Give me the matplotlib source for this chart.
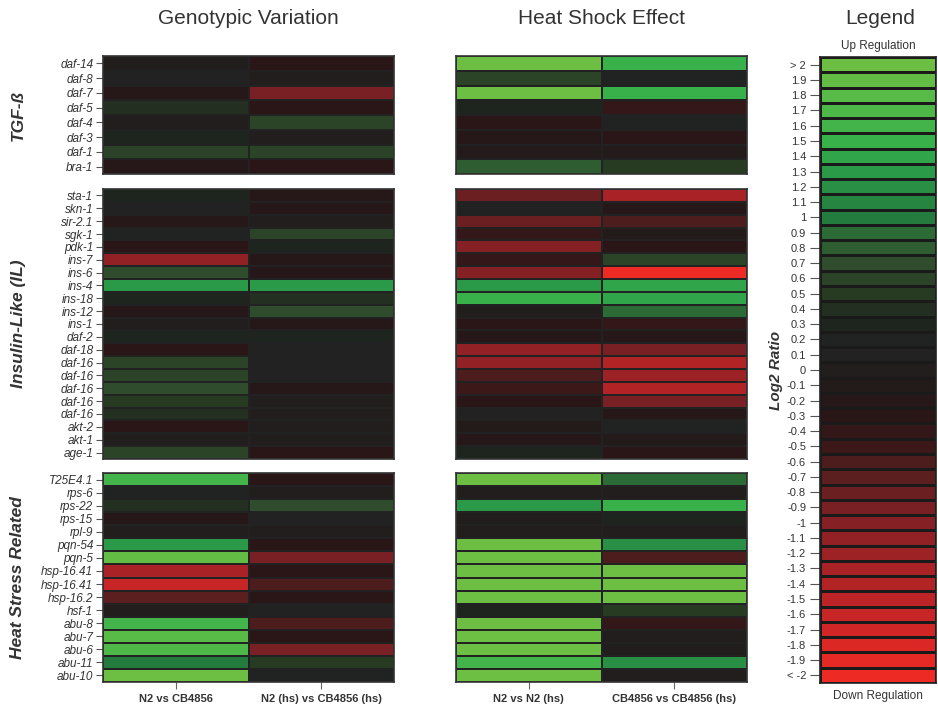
import numpy as np
import matplotlib
matplotlib.use('Agg')
import matplotlib.pyplot as plt
from matplotlib.colors import LinearSegmentedColormap, Normalize

plt.rcParams['font.family'] = ['Liberation Sans', 'DejaVu Sans']

# ─── data (log2 ratios) ───────────────────────────────────────────────────────
tgf_genes = ['daf-14', 'daf-8', 'daf-7', 'daf-5', 'daf-4', 'daf-3', 'daf-1', 'bra-1']
il_genes = ['sta-1', 'skn-1', 'sir-2.1', 'sgk-1', 'pdk-1', 'ins-7', 'ins-6', 'ins-4',
            'ins-18', 'ins-12', 'ins-1', 'daf-2', 'daf-18', 'daf-16', 'daf-16',
            'daf-16', 'daf-16', 'daf-16', 'akt-2', 'akt-1', 'age-1']
hs_genes = ['T25E4.1', 'rps-6', 'rps-22', 'rps-15', 'rpl-9', 'pqn-54', 'pqn-5',
            'hsp-16.41', 'hsp-16.41', 'hsp-16.2', 'hsf-1', 'abu-8', 'abu-7',
            'abu-6', 'abu-11', 'abu-10']

geno_cols = ['N2 vs CB4856', 'N2 (hs) vs CB4856 (hs)']
heat_cols = ['N2 vs N2 (hs)', 'CB4856 vs CB4856 (hs)']

# Genotypic variation
geno_tgf_n2 = [0.0, 0.1, -0.2, 0.4, 0.0, 0.3, 0.6, -0.2]
geno_tgf_hs = [-0.3, 0.0, -0.9, -0.3, 0.6, 0.0, 0.6, -0.3]
geno_il_n2 = [0.3, 0.1, -0.2, 0.2, -0.3, -1.1, 0.7, 1.3, 0.3, -0.2, 0.0,
              0.3, -0.3, 0.6, 0.6, 0.7, 0.5, 0.4, -0.3, 0.0, 0.6]
geno_il_hs = [-0.2, -0.2, 0.0, 0.6, 0.3, -0.2, -0.2, 1.3, 0.4, 0.7, -0.2,
              0.3, 0.1, 0.1, 0.1, -0.2, 0.0, 0.0, 0.0, 0.0, -0.3]
geno_hs_n2 = [1.6, 0.2, 0.4, -0.2, 0.0, 1.3, 1.9, -1.3, -1.6, -0.7, 0.0,
              1.6, 1.8, 1.7, 1.0, 2.0]
geno_hs_hs = [-0.3, 0.0, 0.7, 0.1, 0.0, -0.3, -0.9, -0.3, -0.6, -0.3, 0.1,
              -0.6, -0.3, -0.9, 0.5, 0.2]

# Heat shock effect
heat_tgf_n2 = [2.0, 0.6, 2.0, 0.3, -0.3, -0.2, -0.1, 0.8]
heat_tgf_cb = [1.5, 0.2, 1.5, -0.4, 0.2, -0.3, -0.1, 0.5]
heat_il_n2 = [-0.8, 0.1, -0.8, -0.4, -1.0, -0.4, -1.0, 1.3, 1.5, 0.0, -0.3,
              -0.2, -1.1, -1.1, -0.6, -0.5, -0.3, 0.1, -0.1, -0.2, 0.3]
heat_il_cb = [-1.3, -0.2, -0.6, -0.1, -0.3, 0.6, -2.0, 1.4, 1.4, 0.9, -0.4,
              -0.2, -0.9, -1.4, -1.2, -1.4, -0.9, -0.2, 0.2, -0.1, -0.3]
heat_hs_n2 = [2.0, 0.0, 1.3, 0.0, 0.0, 2.0, 2.0, 2.0, 2.0, 2.0, 0.3,
              2.0, 2.0, 2.0, 1.6, 2.0]
heat_hs_cb = [0.9, 0.0, 1.5, 0.3, 0.0, 1.2, -0.6, 2.0, 2.0, 2.0, 0.5,
              -0.4, 0.0, 0.0, 1.2, 0.0]

legend_levels = np.round(np.arange(2.0, -2.05, -0.1), 1)
legend_labels = ['> 2'] + [f'{v + 0:g}' for v in legend_levels[1:-1]] + ['< -2']

# ─── colour scale: red (down) -> dark -> green (up) ───────────────────────────
anchors = [(-2.0, '#ee2a24'), (-1.5, '#bd2427'), (-1.0, '#862024'),
           (-0.7, '#5c1f20'), (-0.5, '#3d1819'), (-0.3, '#2a1617'),
           (-0.1, '#231a1a'), (0.1, '#222222'), (0.3, '#1e241f'),
           (0.5, '#263a22'), (0.7, '#2f4d2c'), (0.9, '#2c6b36'),
           (1.0, '#237a3d'), (1.3, '#2a9948'), (1.5, '#38b04b'),
           (1.7, '#4db848'), (2.0, '#6dbf44')]
cmap = LinearSegmentedColormap.from_list(
    'rg', [((v + 2) / 4, c) for v, c in anchors])
norm = Normalize(-2, 2)

W, H = 938, 708
fig = plt.figure(figsize=(W / 100, H / 100), dpi=100)


def px_axes(x0, y0, x1, y1):
    return fig.add_axes([x0 / W, 1 - y1 / H, (x1 - x0) / W, (y1 - y0) / H])


def draw_block(ax, genes, cols, show_labels):
    data = np.array(cols).T
    n = len(genes)
    ax.pcolormesh(np.arange(3), np.arange(n + 1), data, cmap=cmap, norm=norm,
                  edgecolors='#222222', linewidth=1.3)
    ax.set_xlim(0, 2)
    ax.set_ylim(n, 0)
    for s in ax.spines.values():
        s.set_color('#333333')
        s.set_linewidth(1.2)
    if show_labels:
        ax.set_yticks(np.arange(n) + 0.5)
        ax.set_yticklabels(genes, fontstyle='italic', fontsize=8.5, color='#333333')
        ax.tick_params(axis='y', length=5, color='#555555', pad=2)
    else:
        ax.set_yticks([])
    ax.set_xticks([])


def bottom_labels(ax, labels):
    ax.set_xticks([0.5, 1.5])
    ax.set_xticklabels(labels, fontweight='bold', fontsize=8, color='#333333')
    ax.tick_params(axis='x', length=5, color='#666666', pad=4)


rows_y = [(56, 174), (189, 459), (473, 682)]
gene_groups = [tgf_genes, il_genes, hs_genes]
geno_data = [(geno_tgf_n2, geno_tgf_hs), (geno_il_n2, geno_il_hs), (geno_hs_n2, geno_hs_hs)]
heat_data = [(heat_tgf_n2, heat_tgf_cb), (heat_il_n2, heat_il_cb), (heat_hs_n2, heat_hs_cb)]
group_names = ['TGF-ß', 'Insulin-Like (IL)', 'Heat Stress Related']

for i, (y0, y1) in enumerate(rows_y):
    ax = px_axes(103, y0, 394, y1)
    draw_block(ax, gene_groups[i], geno_data[i], True)
    fig.text(18 / W, 1 - (y0 + y1) / 2 / H, group_names[i], rotation=90,
             ha='center', va='center', fontsize=12.5, fontstyle='italic',
             fontweight='bold', color='#333333')

    ax2 = px_axes(456, y0, 747, y1)
    draw_block(ax2, gene_groups[i], heat_data[i], False)
    if i == 2:
        bottom_labels(ax, geno_cols)
        bottom_labels(ax2, heat_cols)

# ─── legend column ────────────────────────────────────────────────────────────
lax = px_axes(820, 57, 936, 683)
nl = len(legend_levels)
lax.pcolormesh(np.arange(2), np.arange(nl + 1), legend_levels[:, None],
               cmap=cmap, norm=norm, edgecolors='#1a1a1a', linewidth=1.0)
lax.set_xlim(0, 1)
lax.set_ylim(nl, 0)
lax.set_xticks([])
lax.set_yticks(np.arange(nl) + 0.5)
lax.set_yticklabels(legend_labels, fontsize=8, color='#333333')
lax.tick_params(axis='y', length=7, color='#555555', pad=3)
for s in lax.spines.values():
    s.set_color('#222222')
    s.set_linewidth(1.2)

fig.text(878 / W, 1 - 46 / H, 'Up Regulation', ha='center', va='center',
         fontsize=8.5, color='#333333')
fig.text(878 / W, 1 - 696 / H, 'Down Regulation', ha='center', va='center',
         fontsize=8.5, color='#333333')
fig.text(776 / W, 1 - 370 / H, 'Log2 Ratio', rotation=90, ha='center',
         va='center', fontsize=11, fontstyle='italic', fontweight='bold',
         color='#333333')

# ─── titles ───────────────────────────────────────────────────────────────────
for x, t in [(248, 'Genotypic Variation'), (601, 'Heat Shock Effect'), (880, 'Legend')]:
    fig.text(x / W, 1 - 18 / H, t, ha='center', va='center', fontsize=15,
             color='#333333')

fig.savefig('out.png', dpi=100)
